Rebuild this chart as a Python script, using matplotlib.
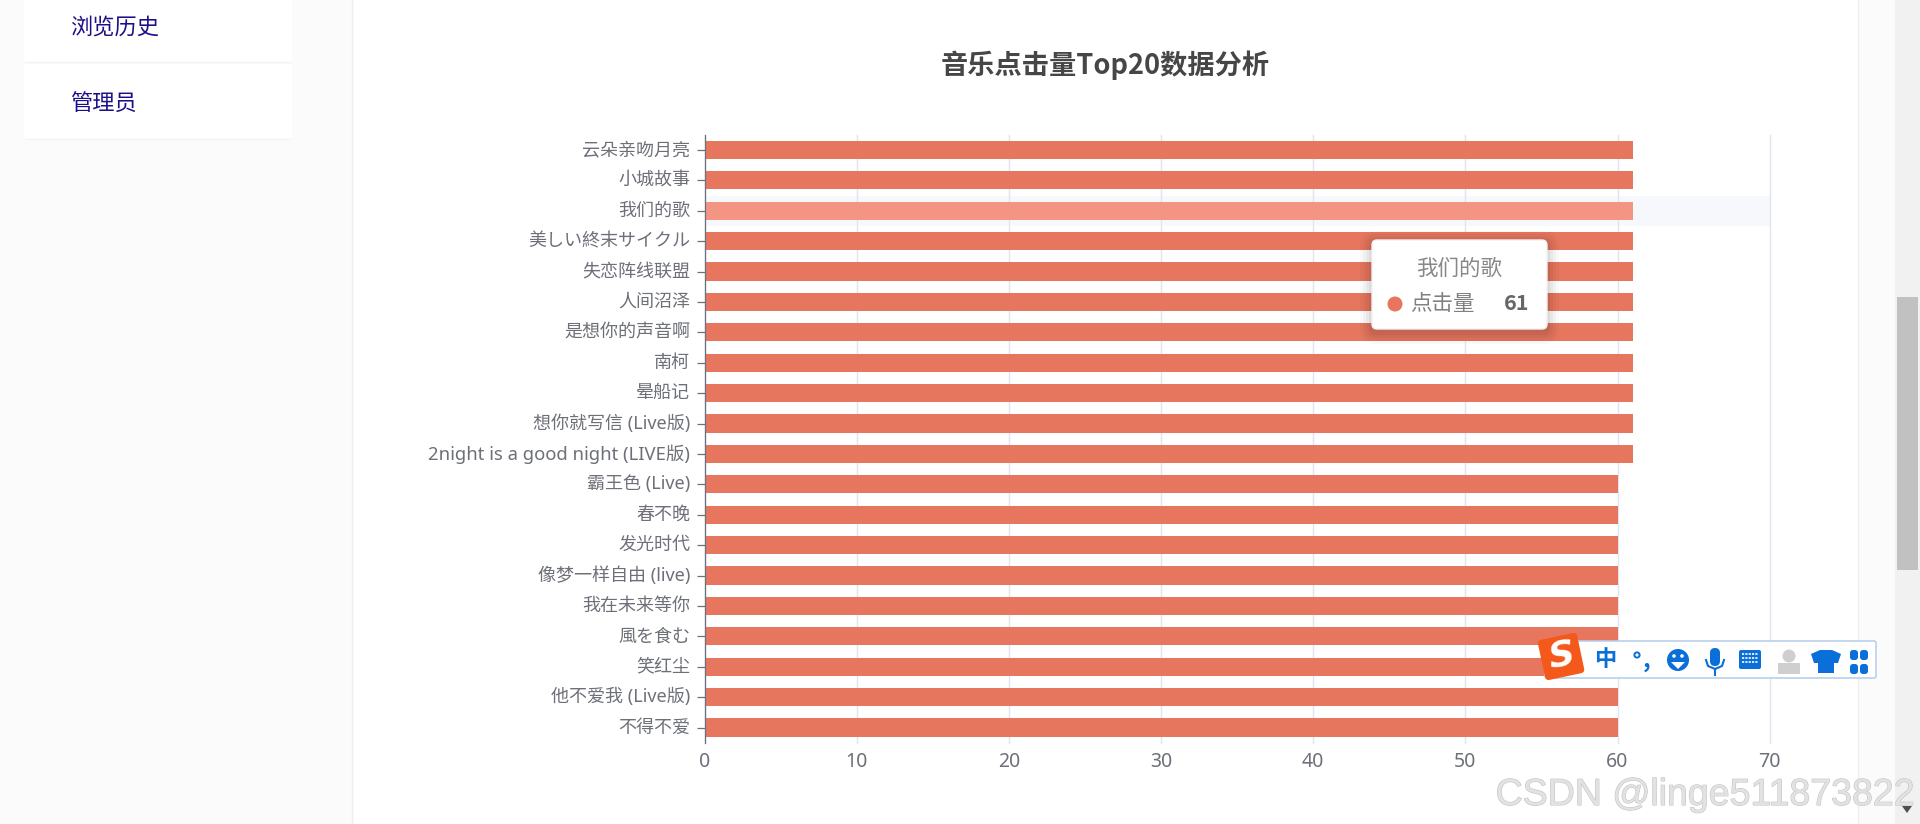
import matplotlib
matplotlib.use("Agg")
import matplotlib.pyplot as plt
from matplotlib.patches import Rectangle, FancyBboxPatch, Circle, Polygon
from matplotlib.ticker import MultipleLocator
from matplotlib.transforms import Affine2D, ScaledTranslation
import matplotlib.patheffects as pe

plt.rcParams['font.family'] = ['Noto Sans', 'Noto Sans CJK SC', 'DejaVu Sans']

songs = ["云朵亲吻月亮", "小城故事", "我们的歌", "美しい終末サイクル", "失恋阵线联盟", "人间沼泽",
         "是想你的声音啊", "南柯", "晕船记", "想你就写信 (Live版)", "2night is a good night (LIVE版)",
         "霸王色 (Live)", "春不晚", "发光时代", "像梦一样自由 (live)", "我在未来等你", "風を食む",
         "笑红尘", "他不爱我 (Live版)", "不得不爱"]
clicks = [61, 61, 61, 61, 61, 61, 61, 61, 61, 61, 61, 60, 60, 60, 60, 60, 60, 60, 60, 60]
series_name = "点击量"
chart_title = "音乐点击量Top20数据分析"
hovered = "我们的歌"
menu_items = ["浏览历史", "管理员"]
watermark = "CSDN @linge511873822"

W, H = 1920, 824
BAR = "#e7765f"
BAR_HI = "#f49584"
GREY = "#6e7079"
CJK = ['Noto Sans CJK SC', 'DejaVu Sans']
fig = plt.figure(figsize=(W / 100, H / 100), dpi=100, facecolor="#fbfbfb")


def px_axes(z):
    a = fig.add_axes([0, 0, 1, 1], zorder=z)
    a.set_xlim(0, W)
    a.set_ylim(H, 0)
    a.axis("off")
    a.patch.set_alpha(0)
    return a


# page behind the chart
back = px_axes(0)
back.add_patch(Rectangle((352, -5), 1506, H + 10, fc="white", ec="#eeeeee", lw=1))
back.add_patch(Rectangle((1895, 0), 25, H, fc="#f1f1f1", ec="none"))
back.add_patch(Rectangle((1897, 297), 21, 273, fc="#c1c1c1", ec="none"))
back.add_patch(Polygon([[1902, 806], [1912, 806], [1907, 813]], fc="#505050", ec="none"))
for (top, bot) in [(-20, 62), (64, 139)]:
    back.add_patch(FancyBboxPatch((24, top), 268, bot - top,
                                  boxstyle="round,pad=0,rounding_size=3",
                                  fc="white", ec="none"))
    back.plot([26, 290], [bot, bot], color="#f3f3f3", lw=1)
for name, y in zip(menu_items, (27, 104)):
    back.text(70.5, y, name, fontsize=16, color="#1c0f8a", va="center", ha="left", family=CJK)
back.text(1105, 65, chart_title, fontsize=19.6, fontweight="bold", color="#464646", ha="center", va="center", family=CJK)

# chart
x0, x1, y0, y1 = 704.7, 1769.7, 134.7, 742.7
ax = fig.add_axes([x0 / W, 1 - y1 / H, (x1 - x0) / W, (y1 - y0) / H], zorder=1)
ax.patch.set_alpha(0)
pos = list(range(len(songs)))
hi = songs.index(hovered)
ax.barh(pos, clicks, height=0.6, color=[BAR_HI if s == hovered else BAR for s in songs], zorder=3)
ax.axhspan(hi - 0.5, hi + 0.5, color="#f6f8fc", lw=0, zorder=1)
ax.set_xlim(0, 70)
ax.set_ylim(len(songs) - 0.5, -0.5)
ax.set_yticks(pos)
ax.set_yticklabels(songs)
ax.xaxis.set_major_locator(MultipleLocator(10))
ax.grid(axis="x", color="#dfe5f0", lw=1.0, zorder=2)
ax.set_axisbelow(False)
for line in ax.get_xgridlines():
    line.set_zorder(2)
    line.set_clip_on(False)
for s in ("top", "right", "bottom"):
    ax.spines[s].set_visible(False)
ax.spines["left"].set_color(GREY)
ax.spines["left"].set_linewidth(0.9)
ax.spines["left"].set_zorder(5)
ax.tick_params(axis="y", length=5.76, width=0.9, color=GREY, pad=4.8, labelsize=13, labelcolor=GREY)
ax.tick_params(axis="x", length=0, pad=6.5, labelsize=14, labelcolor=GREY)
up = ScaledTranslation(0, 2 / 100, fig.dpi_scale_trans)
for lab in ax.get_yticklabels():
    lab.set_transform(lab.get_transform() + up)
    if lab.get_text().startswith("2night"):
        lab.set_fontsize(13.3)

# overlays: tooltip, input-method bar, watermark
front = px_axes(2)
for grow, alpha in [(12, .025), (9, .03), (6, .04), (3, .05)]:
    front.add_patch(FancyBboxPatch((1372 - grow, 240 - grow + 3), 175 + 2 * grow, 89 + 2 * grow,
                                   boxstyle=f"round,pad=0,rounding_size={4 + grow}",
                                   fc="black", ec="none", alpha=alpha))
front.add_patch(FancyBboxPatch((1372, 240), 175, 89, boxstyle="round,pad=0,rounding_size=5",
                               fc="white", ec="#f2f2f2", lw=1))
front.text(1459, 269, hovered, fontsize=15.5, color="#888888", ha="center", va="center", family=CJK)
front.add_patch(Circle((1395, 304), 7.5, fc=BAR, ec="none"))
front.text(1410.5, 304, series_name, fontsize=15.5, color="#808080", ha="left", va="center", family=CJK)
front.text(1529, 303, str(clicks[hi]), fontsize=15.5, fontweight="bold", color="#666666", ha="right", va="center", family=CJK)

front.add_patch(FancyBboxPatch((1545, 641), 331, 37, boxstyle="round,pad=0,rounding_size=2",
                               fc="white", ec="#b9d0ea", lw=1.2))
front.add_patch(FancyBboxPatch((1541, 636), 40, 41, boxstyle="round,pad=0,rounding_size=4",
                               fc="#f4591b", ec="none",
                               transform=Affine2D().rotate_deg_around(1561, 656, -12) + front.transData))
front.text(1561, 655, "S", fontsize=26, fontweight="bold", fontstyle="italic", color="white",
           ha="center", va="center", rotation=10, family="DejaVu Sans")
ime = "#0a6fd8"
front.text(1605, 660, "中", fontsize=16, fontweight="bold", color=ime, ha="center", va="center", family=CJK)
front.add_patch(Circle((1637, 655), 2.6, fc="none", ec=ime, lw=1.4))
front.text(1647, 660, ",", fontsize=17, fontweight="bold", color=ime, ha="center", va="center", family=CJK)
front.add_patch(Circle((1678, 660), 11, fc=ime, ec="none"))
front.add_patch(Circle((1674, 656), 1.8, fc="white", ec="none"))
front.add_patch(Circle((1682, 656), 1.8, fc="white", ec="none"))
front.add_patch(Polygon([[1671, 662], [1685, 662], [1678, 669]], fc="white", ec="none"))
front.add_patch(FancyBboxPatch((1710, 648), 10, 18, boxstyle="round,pad=0,rounding_size=5", fc=ime, ec="none"))
front.plot([1706, 1708, 1715, 1722, 1724], [660, 666, 669, 666, 660], color=ime, lw=1.5)
front.plot([1715, 1715], [669, 675], color=ime, lw=1.5)
front.add_patch(FancyBboxPatch((1739, 650), 22, 19, boxstyle="round,pad=0,rounding_size=2", fc=ime, ec="none"))
for r, c0 in [(654, 1742), (658, 1742), (662, 1742)]:
    front.plot([c0, 1758], [r, r], color="white", lw=1.2, ls=(0, (1.3, 0.7)))
front.add_patch(Circle((1789, 656), 6.5, fc="#cfcfcf", ec="none"))
front.add_patch(Rectangle((1778, 663), 22, 11, fc="#cfcfcf", ec="none"))
front.add_patch(Polygon([[1811, 654], [1820, 650], [1832, 650], [1841, 654], [1838, 663], [1834, 663],
                         [1834, 673], [1818, 673], [1818, 663], [1814, 663]], fc=ime, ec="none"))
for cx, cy in [(1854, 655), (1864, 655), (1854, 669), (1864, 669)]:
    front.add_patch(FancyBboxPatch((cx - 4, cy - 5), 8, 10, boxstyle="round,pad=0,rounding_size=3", fc=ime, ec="none"))

front.text(1705, 795, watermark, fontsize=27, family=["Liberation Sans", "DejaVu Sans"], color="#e2e2e2",
           ha="center", va="center",
           path_effects=[pe.withStroke(linewidth=0.8, foreground="#c4c4c4")])

fig.savefig("out.png", dpi=100, facecolor=fig.get_facecolor())
